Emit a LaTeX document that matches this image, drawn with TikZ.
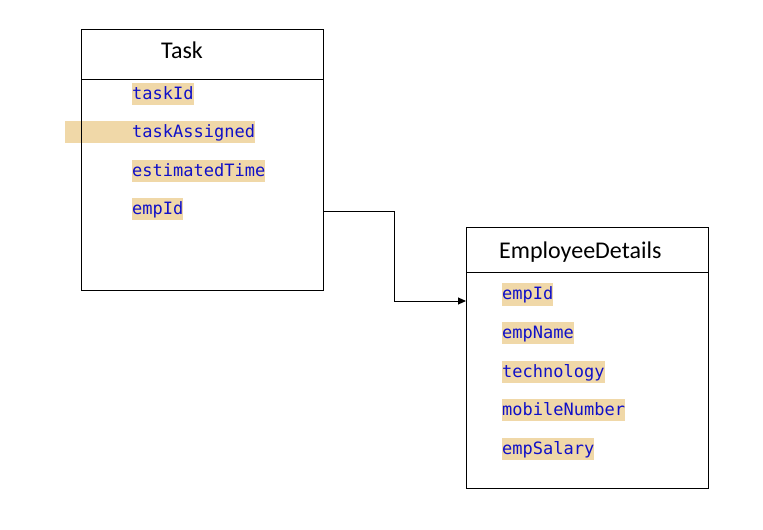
\documentclass[tikz,border=0pt]{standalone}
\usepackage{fontspec}
\setmainfont{Carlito}
\setmonofont{DejaVu Sans Mono}
\usetikzlibrary{arrows.meta}
\definecolor{hl}{RGB}{240,216,168}
\definecolor{fieldblue}{RGB}{16,16,200}
\tikzset{
  entity/.style={draw=black, line width=1bp, anchor=north west, minimum width=242bp, minimum height=261bp, inner sep=0pt},
  title/.style={anchor=base west, inner sep=0pt, font=\fontsize{24bp}{28bp}\selectfont},
  field/.style={anchor=west, fill=hl, text=fieldblue, inner xsep=0pt, inner ysep=0pt, text height=16.5bp, text depth=5.5bp, font=\ttfamily\fontsize{17bp}{20bp}\selectfont},
  conn/.style={draw=black, line width=1bp, -{Triangle[length=8bp,width=7bp]}},
  sep/.style={draw=black, line width=1bp}
}
\begin{document}
\begin{tikzpicture}[x=1bp,y=-1bp]
\useasboundingbox (0,0) rectangle (763,530);
% stray highlight behind Task box left edge
\fill[hl] (65,121) rectangle (132,143);
% Task entity
\node[entity] (task) at (81,29) {};
\draw[sep] (81,80) -- (323,80);
\node[title] (tasktitle) at (161,59) {Task};
\node[field] (taskId) at (132,94) {taskId};
\node[field] (taskAssigned) at (132,132) {taskAssigned};
\node[field] (estimatedTime) at (132,171) {estimatedTime};
\node[field] (empIdA) at (132,209) {empId};
% EmployeeDetails entity
\node[entity] (emp) at (466,227) {};
\draw[sep] (466,273) -- (708,273);
\node[title] (emptitle) at (499,259) {EmployeeDetails};
\node[field] (empIdB) at (502,294.5) {empId};
\node[field] (empName) at (502,333) {empName};
\node[field] (technology) at (502,372) {technology};
\node[field] (mobileNumber) at (502,410) {mobileNumber};
\node[field] (empSalary) at (502,449) {empSalary};
% connector
\coordinate (src) at (task.east |- 0,212);
\coordinate (dst) at (emp.west |- 0,301);
\draw[conn] (src) -- (394,212) |- (dst);
\end{tikzpicture}
\end{document}
